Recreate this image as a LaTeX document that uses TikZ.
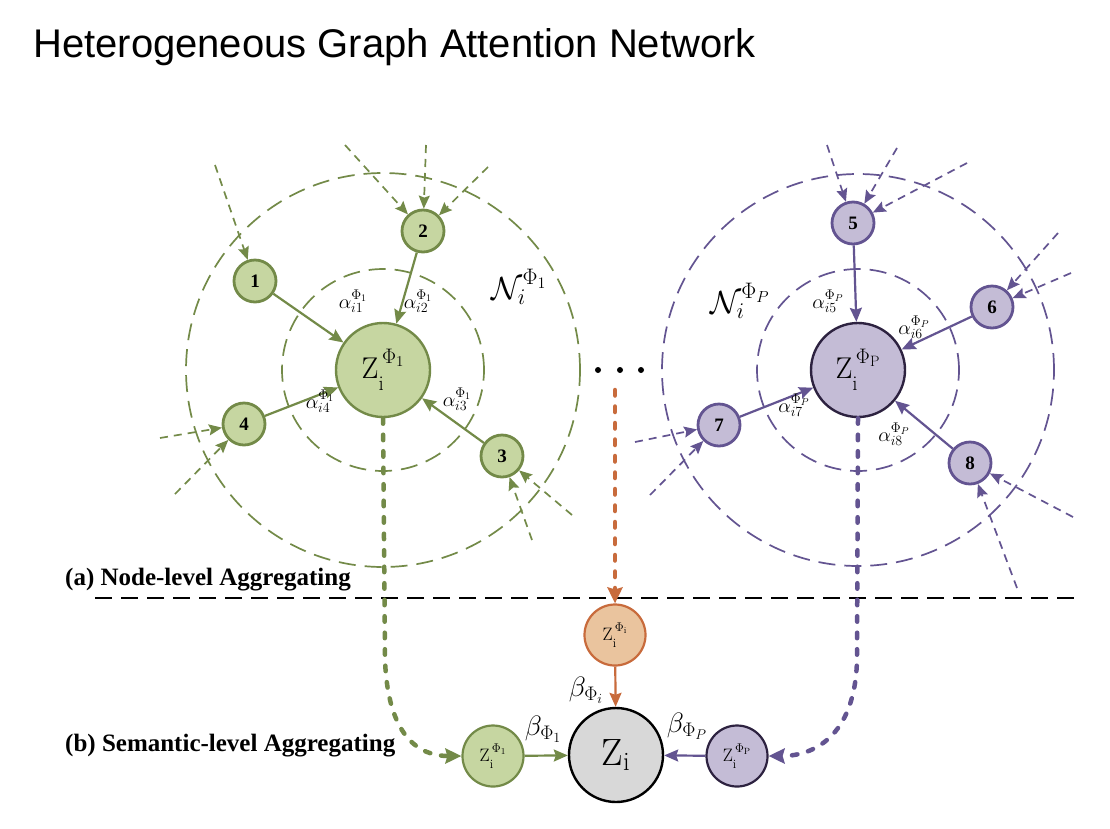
\RequirePackage{fix-cm}
\documentclass[tikz,border=0pt]{standalone}
\usepackage{fontspec}
\newfontfamily\titlefont{Liberation Sans}
\newfontfamily\tnr{Liberation Serif}
\usetikzlibrary{arrows.meta}
\definecolor{gfill}{HTML}{C6D6A1}
\definecolor{gline}{HTML}{738A48}
\definecolor{pfill}{HTML}{C4BCD6}
\definecolor{pline}{HTML}{635491}
\definecolor{pdark}{HTML}{2D2240}
\definecolor{ofill}{HTML}{EAC49E}
\definecolor{oline}{HTML}{C86B3C}
\definecolor{zfill}{HTML}{D8D8D8}
\newcommand{\zsym}[1]{\mathrm{Z}_{\raisebox{-0.14em}{$\scriptstyle\mathrm{i}$}}^{\,\raisebox{0.14em}{$\scriptstyle #1$}}}
\tikzset{
  numnode/.style={circle, line width=2.8pt, minimum size=42pt, inner sep=0pt,
    font=\tnr\bfseries\fontsize{19}{19}\selectfont},
  gnode/.style={numnode, draw=gline, fill=gfill},
  pnode/.style={numnode, draw=pline, fill=pfill},
  bignode/.style={circle, line width=2.4pt, minimum size=94pt, inner sep=0pt,
    font=\fontsize{30}{30}\selectfont},
  smallnode/.style={circle, line width=2.2pt, minimum size=61pt, inner sep=0pt,
    font=\fontsize{18}{18}\selectfont},
  ring/.style={line width=1.7pt, dash pattern=on 17pt off 9pt},
  inarr/.style={line width=1.7pt, dash pattern=on 8pt off 6pt,
    -{Stealth[length=13pt,width=11pt,inset=2pt]}},
  solarr/.style={line width=2.2pt, -{Stealth[length=14pt,width=12pt,inset=2pt]}},
  dotarr/.style={line width=4.5pt, line cap=round, dash pattern=on 5.5pt off 11pt,
    -{Stealth[length=16pt,width=15pt,inset=2pt]}},
  alab/.style={font=\fontsize{20}{20}\selectfont, inner sep=0pt},
  blab/.style={font=\fontsize{28}{28}\selectfont, inner sep=0pt},
  nlab/.style={font=\fontsize{32}{32}\selectfont, inner sep=0pt},
  seclab/.style={font=\tnr\bfseries\fontsize{25}{25}\selectfont, anchor=west, inner sep=0pt},
  dotnode/.style={circle, fill=black, minimum size=6pt, inner sep=0pt},
}
\begin{document}
\begin{tikzpicture}[x=1pt,y=-1pt]
\fill[white] (0,0) rectangle (1110,828);
\useasboundingbox (0,0) rectangle (1110,828);

% title
\node[anchor=west, inner sep=0pt, font=\titlefont\fontsize{40}{40}\selectfont] (title) at (33,47) {Heterogeneous Graph Attention Network};

% ---------- left cluster (green) ----------
\node[bignode, draw=gline, fill=gfill] (Z1) at (383,370) {$\zsym{\Phi_1}$};
\draw[ring, gline] (Z1.center) circle[radius=101pt];
\draw[ring, gline] (Z1.center) circle[radius=197pt];
\node[gnode] (n1) at (255,281) {1};
\node[gnode] (n2) at (423,231) {2};
\node[gnode] (n3) at (502,456) {3};
\node[gnode] (n4) at (244,424) {4};

% ---------- right cluster (purple) ----------
\node[bignode, draw=pdark, fill=pfill] (ZP) at (858,370) {$\zsym{\Phi_{\mathrm{P}}}$};
\draw[ring, pline] (ZP.center) circle[radius=101pt];
\draw[ring, pline] (ZP.center) circle[radius=196pt];
\node[pnode] (n5) at (853,223) {5};
\node[pnode] (n6) at (992,307) {6};
\node[pnode] (n7) at (719,425) {7};
\node[pnode] (n8) at (970,463) {8};

% incoming dashed arrows (green)
\coordinate (s1) at (215,165);
\coordinate (s2a) at (345,145);
\coordinate (s2b) at (426,145);
\coordinate (s2c) at (488,167);
\coordinate (s3a) at (572,515);
\coordinate (s3b) at (532,540);
\coordinate (s4a) at (160,438);
\coordinate (s4b) at (175,494);
\draw[inarr, gline] (s1) -- (n1);
\draw[inarr, gline] (s2a) -- (n2);
\draw[inarr, gline] (s2b) -- (n2);
\draw[inarr, gline] (s2c) -- (n2);
\draw[inarr, gline] (s3a) -- (n3);
\draw[inarr, gline] (s3b) -- (n3);
\draw[inarr, gline] (s4a) -- (n4);
\draw[inarr, gline] (s4b) -- (n4);

% incoming dashed arrows (purple)
\coordinate (s5a) at (827,145);
\coordinate (s5b) at (897,148);
\coordinate (s5c) at (967,163);
\coordinate (s6a) at (1058,233);
\coordinate (s6b) at (1071,273);
\coordinate (s7a) at (635,442);
\coordinate (s7b) at (650,495);
\coordinate (s8a) at (1073,517);
\coordinate (s8b) at (1017,588);
\draw[inarr, pline] (s5a) -- (n5);
\draw[inarr, pline] (s5b) -- (n5);
\draw[inarr, pline] (s5c) -- (n5);
\draw[inarr, pline] (s6a) -- (n6);
\draw[inarr, pline] (s6b) -- (n6);
\draw[inarr, pline] (s7a) -- (n7);
\draw[inarr, pline] (s7b) -- (n7);
\draw[inarr, pline] (s8a) -- (n8);
\draw[inarr, pline] (s8b) -- (n8);

% solid arrows to centres
\draw[solarr, gline] (n1) -- (Z1);
\draw[solarr, gline] (n2) -- (Z1);
\draw[solarr, gline] (n3) -- (Z1);
\draw[solarr, gline] (n4) -- (Z1);
\draw[solarr, pline] (n5) -- (ZP);
\draw[solarr, pline] (n6) -- (ZP);
\draw[solarr, pline] (n7) -- (ZP);
\draw[solarr, pline] (n8) -- (ZP);

% attention labels
\node[alab] (a1) at (353,301) {$\alpha_{i1}^{\Phi_1}$};
\node[alab] (a2) at (418,301) {$\alpha_{i2}^{\Phi_1}$};
\node[alab] (a3) at (457,399) {$\alpha_{i3}^{\Phi_1}$};
\node[alab] (a4) at (320,401) {$\alpha_{i4}^{\Phi_1}$};
\node[alab] (a5) at (828,301) {$\alpha_{i5}^{\Phi_P}$};
\node[alab] (a6) at (914,327) {$\alpha_{i6}^{\Phi_P}$};
\node[alab] (a7) at (794,405) {$\alpha_{i7}^{\Phi_P}$};
\node[alab] (a8) at (894,434) {$\alpha_{i8}^{\Phi_P}$};

% neighbourhood labels
\node[nlab] (N1) at (519,287) {$\mathcal{N}_i^{\Phi_1}$};
\node[nlab] (NP) at (740,301) {$\mathcal{N}_i^{\Phi_P}$};

% dots
\node[dotnode] (d1) at (598,370) {};
\node[dotnode] (d2) at (620,370) {};
\node[dotnode] (d3) at (641,370) {};

% separator
\coordinate (la) at (95,598);
\coordinate (lb) at (1075,598);
\draw[line width=2pt, dash pattern=on 17pt off 9pt] (la) -- (lb);
\node[seclab] (seca) at (65,580) {(a) Node-level Aggregating};
\node[seclab] (secb) at (65,746) {(b) Semantic-level Aggregating};

% ---------- semantic level ----------
\node[smallnode, draw=oline, fill=ofill] (zo) at (615,635) {$\zsym{\Phi_{\mathrm{i}}}$};
\node[bignode, draw=black, fill=zfill, font=\fontsize{38}{38}\selectfont] (Z) at (616,755) {$\mathrm{Z}_{\mathrm{i}}$};
\node[smallnode, draw=gline, fill=gfill] (zg) at (493,756) {$\zsym{\Phi_1}$};
\node[smallnode, draw=pdark, fill=pfill] (zp) at (737,756) {$\zsym{\Phi_{\mathrm{P}}}$};

\draw[solarr, gline] (zg) -- (Z);
\draw[solarr, pline] (zp) -- (Z);
\draw[solarr, oline] (zo) -- (Z);

\node[blab] (bi) at (586,690) {$\beta_{\Phi_i}$};
\node[blab] (b1) at (543,729) {$\beta_{\Phi_1}$};
\node[blab] (bP) at (687,726) {$\beta_{\Phi_P}$};

% thick dotted connectors
\coordinate (os) at (615,390);
\draw[dotarr, oline] (os) -- (zo.north);
\draw[dotarr, gline] (Z1.south) -- (385,660) .. controls (388,738) and (420,756) .. (zg.west);
\draw[dotarr, pline] (ZP.south) -- (857,660) .. controls (855,738) and (812,756) .. (zp.east);
\end{tikzpicture}
\end{document}
